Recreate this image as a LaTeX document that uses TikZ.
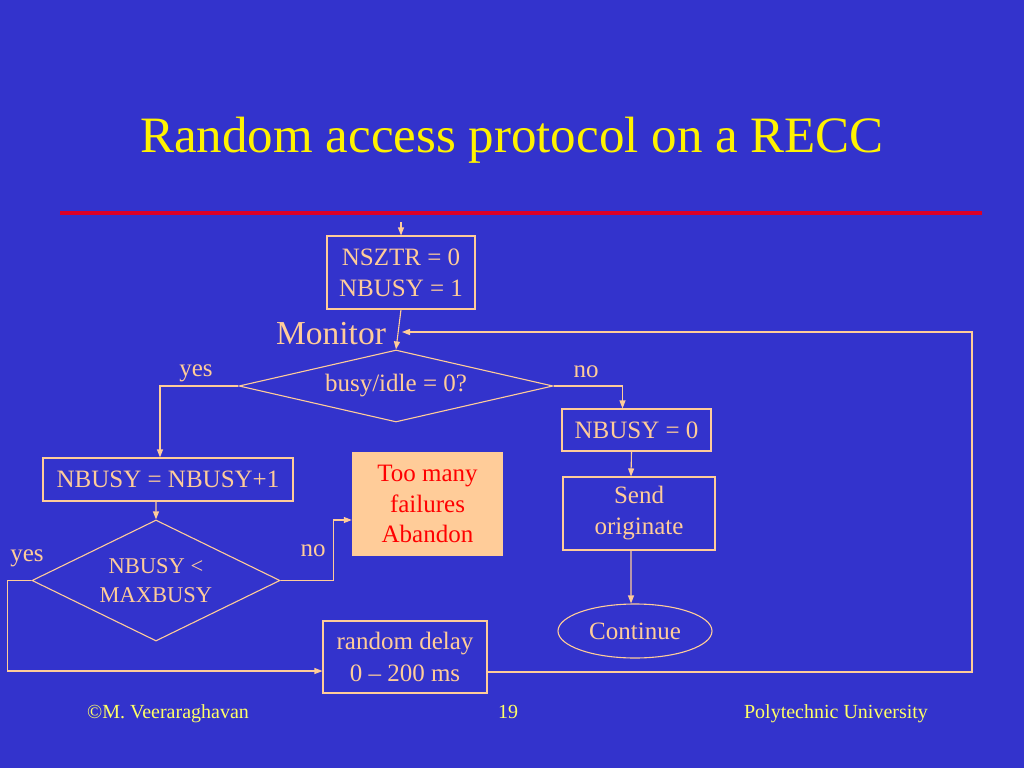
\documentclass[tikz,border=0pt]{standalone}
\usepackage{fontspec}
\setmainfont{Liberation Serif}
\usetikzlibrary{shapes.geometric,arrows.meta}
\definecolor{slideblue}{RGB}{51,51,204}
\definecolor{peach}{RGB}{255,204,153}
\definecolor{rulered}{RGB}{220,0,40}
\definecolor{footyellow}{RGB}{255,255,102}
\tikzset{
	flow/.style={draw=peach, line width=1.1bp},
	arr/.style={flow, -{Triangle[width=6bp,length=8bp]}},
	box/.style={draw=peach, line width=1.1bp, text=peach, inner sep=0pt, align=center,
		font=\fontsize{25bp}{31bp}\selectfont},
	decision/.style={diamond, draw=peach, line width=1.1bp, text=peach, inner sep=0pt, align=center},
	failbox/.style={fill=peach, text=red, inner sep=0pt, align=center,
		font=\fontsize{25bp}{30.5bp}\selectfont},
	lbl/.style={text=peach, inner sep=0pt, font=\fontsize{25bp}{30bp}\selectfont},
	foot/.style={text=footyellow, inner sep=0pt, anchor=base, font=\fontsize{20bp}{24bp}\selectfont}
}
\begin{document}
\begin{tikzpicture}[x=1bp, y=-1bp]
	\fill[slideblue] (0,0) rectangle (1024,768);
	\useasboundingbox (0,0) rectangle (1024,768);
	% title and rule
	\node[text=yellow, inner sep=0pt, anchor=base, font=\fontsize{51bp}{60bp}\selectfont] (title) at (512,152) {Random access protocol on a RECC};
	\draw[rulered, line width=4bp] (60,213) -- (982,213);
	% flow chart
	\coordinate (top) at (401,222);
	\coordinate (loop) at (972,332);
	\coordinate (mon) at (402,332);
	\node[box, minimum width=148bp, minimum height=73bp] (init) at (401,272.5) {NSZTR = 0\\NBUSY = 1};
	\node[lbl, font=\fontsize{33.5bp}{40bp}\selectfont] (monitor) at (331,334) {Monitor};
	\node[decision, minimum width=314bp, minimum height=72bp, aspect=4.36,
		font=\fontsize{25bp}{30bp}\selectfont] (busy) at (396,386) {busy/idle = 0?};
	\node[box, minimum width=250bp, minimum height=43bp] (inc) at (168,479.5) {NBUSY = NBUSY+1};
	\node[decision, minimum width=248bp, minimum height=121bp, aspect=2.05,
		font=\fontsize{22.5bp}{29bp}\selectfont] (limit) at (156,580.5) {NBUSY <\\MAXBUSY};
	\node[failbox, minimum width=151bp, minimum height=104bp] (abandon) at (427.5,504) {Too many\\failures\\Abandon};
	\node[box, minimum width=149bp, minimum height=42bp] (zero) at (636.5,430) {NBUSY = 0};
	\node[box, minimum width=152bp, minimum height=73bp] (send) at (639,513.5) {Send\\originate};
	\node[box, ellipse, minimum width=154bp, minimum height=54bp] (cont) at (635,631) {Continue};
	\node[box, minimum width=164bp, minimum height=72bp, font=\fontsize{25bp}{32bp}\selectfont] (delay) at (405,657) {random delay\\0 -- 200 ms};
	% branch labels
	\node[lbl] (yesA) at (196,373) {yes};
	\node[lbl] (noA) at (586,372) {no};
	\node[lbl] (yesB) at (27,558) {yes};
	\node[lbl] (noB) at (313,551) {no};
	% connectors
	\draw[arr] (top) -- (init.north);
	\draw[arr] (init.south) -- (busy.north);
	\draw[arr] (busy.west) -| ([xshift=-8bp]inc.north);
	\draw[arr] (busy.east) -| ([xshift=-14bp]zero.north);
	\draw[arr] ([xshift=-12bp]inc.south) -- (limit.north);
	\draw[arr] ([xshift=-5bp]zero.south) -- ([xshift=-8bp]send.north);
	\draw[arr] ([xshift=-8bp]send.south) -- ([xshift=-4bp]cont.north);
	\draw[arr] (limit.west) -- ++(-24,0) |- ([yshift=-14bp]delay.west);
	\draw[arr] (limit.east) -- ++(53,0) |- ([yshift=-16bp]abandon.west);
	\draw[arr] ([yshift=-15bp]delay.east) -| (loop) -- (mon);
	% footer
	\node[foot] (author) at (168,718) {©M. Veeraraghavan};
	\node[foot] (page) at (508,718) {19};
	\node[foot] (school) at (836,718) {Polytechnic University};
\end{tikzpicture}
\end{document}
